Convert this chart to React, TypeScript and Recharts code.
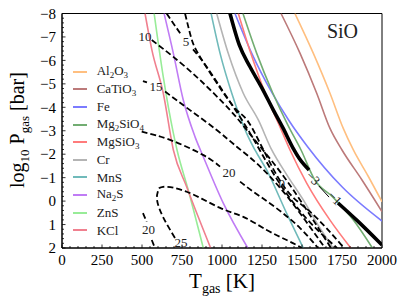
import React from 'react';
import { LineChart, Line, XAxis, YAxis, Legend, ReferenceDot, ReferenceArea } from 'recharts';

const FONT = '"Liberation Serif", "DejaVu Serif", serif';

// condensation curves: [T_gas (K), log10 P_gas (bar)]
const al2o3 = [[1456, -8], [1571, -6.3], [1675, -4.6], [1758, -3.1], [1821, -2.18], [1913, -1.07], [2000, 0.03]];
const catio3 = [[1369, -8], [1488, -6.3], [1592, -4.6], [1675, -3.1], [1750, -2.18], [1875, -0.9], [2000, 0.45]];
const fe = [[1081, -8], [1186, -6.3], [1314, -4.6], [1416, -3.46], [1535, -2.32], [1750, -0.61], [2000, 0.85]];
const mg2sio4 = [[1131, -8], [1217, -6.3], [1318, -4.6], [1411, -3.25], [1494, -2.18], [1580, -0.9], [1690, -0.19], [1821, 0.81], [1940, 2]];
const mgsio3 = [[1102, -8], [1180, -6.3], [1270, -4.6], [1365, -3.12], [1425, -2.18], [1530, -0.76], [1675, 0.81], [1805, 2]];
const cr = [[967, -8], [1039, -6.3], [1133, -4.6], [1227, -3.46], [1311, -2.18], [1406, -1.11], [1508, -0.05], [1600, 1.02], [1694, 2]];
const mns = [[932, -8], [988, -6.3], [1061, -4.6], [1154, -2.89], [1206, -2.18], [1279, -1.33], [1404, 0.52], [1508, 2]];
const na2s = [[638, -8], [696, -6.3], [758, -4.31], [831, -2.75], [883, -1.89], [1008, 0.09], [1161, 2]];
const zns = [[576, -8], [633, -5.3], [696, -2.9], [719, -2.18], [789, -0.47], [883, 2]];
const kcl = [[519, -8], [562, -6.44], [633, -4.6], [696, -2.18], [779, -0.61], [929, 2]];

// SiO curve (thick), broken where the -3 / -1 labels sit
const sioUpper = [[1050, -8], [1108, -6.66], [1175, -5.73], [1250, -4.82], [1321, -3.88], [1381, -3.12], [1444, -2.26], [1481, -1.84], [1544, -1.33]];
const sioLower = [[1725, 0.08], [1842, 0.81], [2000, 1.87]];
const sioThin = [[1606, -0.64], [1669, -0.17]];

// dashed contours (null = gap for inline label)
const c25 = [[706, 1.57], [631, 0.67], [594, -0.05], [600, -0.43], [631, -0.61], [779, -0.4], [988, 0.29], [1133, 0.67], [1279, 1.23], [1404, 1.66], [1498, 1.99]];
const c20low = [[506, 0.51], [529, 0.88], [541, null], [561, 1.66], [581, 2]];
const c20 = [[498, -2.96], [675, -2.61], [881, -1.97], [988, -1.47], [1044, null], [1113, -0.83], [1196, -0.4], [1342, 0.31], [1488, 1.15], [1600, 2]];
const c15 = [[506, -5.12], [531, -5.06], [588, null], [644, -4.67], [800, -3.88], [967, -3.03], [1092, -2.32], [1217, -1.61], [1375, -0.47], [1519, 0.81], [1644, 2]];
const c10 = [[561, -6.87], [694, -6.16], [863, -5.16], [1050, -3.88], [1163, -2.96], [1331, -1.54], [1488, -0.05], [1681, 2]];
const c5 = [[654, -8], [744, -7.1], [775, null], [819, -6.47], [904, -5.73], [1029, -4.45], [1175, -2.9], [1338, -0.99], [1525, 0.72], [1719, 2]];
const c0 = [[769, -8], [806, -7.0], [850, -6.3], [967, -5.04], [1092, -3.88], [1188, -3.12], [1373, -0.76], [1550, 0.45], [1763, 2]];

const labelT = [519, 775, 588, 1044, 541, 744, 1373, 1569, 1706];
const labelP = [-7.04, -6.8, -4.87, -1.2, 1.23, 1.78, -0.76, -0.98, -0.13];
const labelText = ['10', '5', '15', '20', '20', '25', '0', '\u22123', '\u22121'];
const labelAngle = [0, 0, 0, 0, 0, 0, 0, 45, 45];

const speciesNames = ['Al2O3', 'CaTiO3', 'Fe', 'Mg2SiO4', 'MgSiO3', 'Cr', 'MnS', 'Na2S', 'ZnS', 'KCl'];
const speciesColors = ['#ffbf80', '#bc7a7a', '#7b7bff', '#72ad72', '#ff7b7b', '#b4b4b4', '#70baba', '#c07cf5', '#98ec98', '#f0808f'];
const speciesData = [al2o3, catio3, fe, mg2sio4, mgsio3, cr, mns, na2s, zns, kcl];

const xTicks = Array.from({ length: 41 }, (_, i) => i * 50);
const yTicks = Array.from({ length: 51 }, (_, i) => Math.round((-8 + i * 0.2) * 10) / 10);

const toPts = (a: (number | null)[][]) => a.map(([T, P]) => ({ T, P }));

const chem = (name: string) =>
  name.split(/(\d+)/).map((s, i) =>
    /^\d+$/.test(s) ? (
      <sub key={i} style={{ fontSize: 9, verticalAlign: 'baseline', position: 'relative', top: 3 }}>{s}</sub>
    ) : (
      <span key={i}>{s}</span>
    )
  );

const fmt = (v: number) => (v < 0 ? '\u2212' + Math.abs(v) : String(v));

const XTick = (props: any) => {
  const { x, y, payload } = props;
  const v = payload.value;
  const major = v % 250 === 0;
  return (
    <g>
      <line x1={x} x2={x} y1={y} y2={y - (major ? 3.5 : 2)} stroke="#000" strokeWidth={0.8} />
      {major && (
        <text x={x} y={y + 17} textAnchor="middle" fontSize={15} fontFamily={FONT} fill="#000">
          {v}
        </text>
      )}
    </g>
  );
};

const YTick = (props: any) => {
  const { x, y, payload } = props;
  const v = payload.value;
  const major = Number.isInteger(v);
  return (
    <g>
      <line x1={x} x2={x + (major ? 3.5 : 2)} y1={y} y2={y} stroke="#000" strokeWidth={0.8} />
      {major && (
        <text x={x - 6} y={y} dy="0.35em" textAnchor="end" fontSize={15} fontFamily={FONT} fill="#000">
          {fmt(v)}
        </text>
      )}
    </g>
  );
};

const XLabel = () => (
  <text x={214} y={280} textAnchor="middle" fontSize={21} fontFamily={FONT} fill="#000">
    T<tspan dy={5} fontSize={14}>gas</tspan>
    <tspan dy={-5}>{'\u00a0[K]'}</tspan>
  </text>
);

const YLabel = () => (
  <text
    x={16}
    y={122}
    transform="rotate(-90 16 122)"
    textAnchor="middle"
    fontSize={20}
    fontFamily={FONT}
    fill="#000"
  >
    log<tspan dy={5} fontSize={13}>10</tspan>
    <tspan dy={-5}>{'\u00a0P'}</tspan>
    <tspan dy={5} fontSize={13}>gas</tspan>
    <tspan dy={-5}>{'\u00a0[bar]'}</tspan>
  </text>
);

const renderLegend = () => (
  <div style={{ fontFamily: FONT, fontSize: 13, color: '#222' }}>
    {speciesNames.map((n, i) => (
      <div key={n} style={{ display: 'flex', alignItems: 'center', height: 17.6 }}>
        <div style={{ width: 14, height: 2, background: speciesColors[i], marginRight: 9.7 }} />
        <span style={{ lineHeight: '13px' }}>{chem(n)}</span>
      </div>
    ))}
  </div>
);

export default function App() {
  return (
    <div style={{ position: 'relative', width: 399, height: 296 }}>
      <LineChart width={399} height={296} margin={{ top: 5.5, right: 25, bottom: 0, left: 0 }}>
        <XAxis
          dataKey="T"
          type="number"
          domain={[0, 2000]}
          allowDataOverflow
          ticks={xTicks}
          interval={0}
          tickSize={0}
          tickMargin={0}
          tickLine={false}
          tick={<XTick />}
          height={56}
          stroke="#000"
          label={<XLabel />}
        />
        <YAxis
          type="number"
          domain={[-8, 2]}
          reversed
          allowDataOverflow
          ticks={yTicks}
          interval={0}
          tickSize={0}
          tickMargin={0}
          tickLine={false}
          tick={<YTick />}
          width={54}
          stroke="#000"
          label={<YLabel />}
        />
        <ReferenceArea x1={0} x2={2000} y1={-8} y2={2} fill="none" stroke="#000" strokeWidth={1} ifOverflow="visible" />
        <Legend
          content={renderLegend}
          layout="vertical"
          align="center"
          verticalAlign="middle"
          wrapperStyle={{ left: 65, top: 55, width: 'auto' }}
        />
        {speciesData.map((d, i) => (
          <Line
            key={speciesNames[i]}
            data={toPts(d)}
            dataKey="P"
            type="monotone"
            stroke={speciesColors[i]}
            strokeWidth={1.6}
            dot={false}
            activeDot={false}
            isAnimationActive={false}
            legendType="none"
          />
        ))}
        {[c25, c20low, c20, c15, c10, c5, c0].map((d, i) => (
          <Line
            key={'c' + i}
            data={toPts(d)}
            dataKey="P"
            type="natural"
            stroke="#000"
            strokeWidth={1.8}
            strokeDasharray="6 3"
            dot={false}
            activeDot={false}
            isAnimationActive={false}
            legendType="none"
          />
        ))}
        <Line data={toPts(sioThin)} dataKey="P" type="linear" stroke="#000" strokeWidth={1} dot={false} activeDot={false} isAnimationActive={false} legendType="none" />
        <Line data={toPts(sioUpper)} dataKey="P" type="monotone" stroke="#000" strokeWidth={3.6} dot={false} activeDot={false} isAnimationActive={false} legendType="none" />
        <Line data={toPts(sioLower)} dataKey="P" type="monotone" stroke="#000" strokeWidth={3.6} dot={false} activeDot={false} isAnimationActive={false} legendType="none" />
        {labelText.map((t, i) => (
          <ReferenceDot
            key={'l' + i}
            x={labelT[i]}
            y={labelP[i]}
            r={0}
            ifOverflow="visible"
            shape={(p: any) => (
              <text
                x={p.cx}
                y={p.cy}
                textAnchor="middle"
                dominantBaseline="central"
                fontSize={13}
                fontFamily={FONT}
                fill="#222"
                transform={labelAngle[i] ? `rotate(${labelAngle[i]} ${p.cx} ${p.cy})` : undefined}
              >
                {t}
              </text>
            )}
          />
        ))}
        <ReferenceDot
          x={1753}
          y={-6.96}
          r={0}
          ifOverflow="visible"
          shape={(p: any) => (
            <text x={p.cx} y={p.cy} textAnchor="middle" fontSize={20} fontFamily={FONT} fill="#222">
              SiO
            </text>
          )}
        />
      </LineChart>
    </div>
  );
}
